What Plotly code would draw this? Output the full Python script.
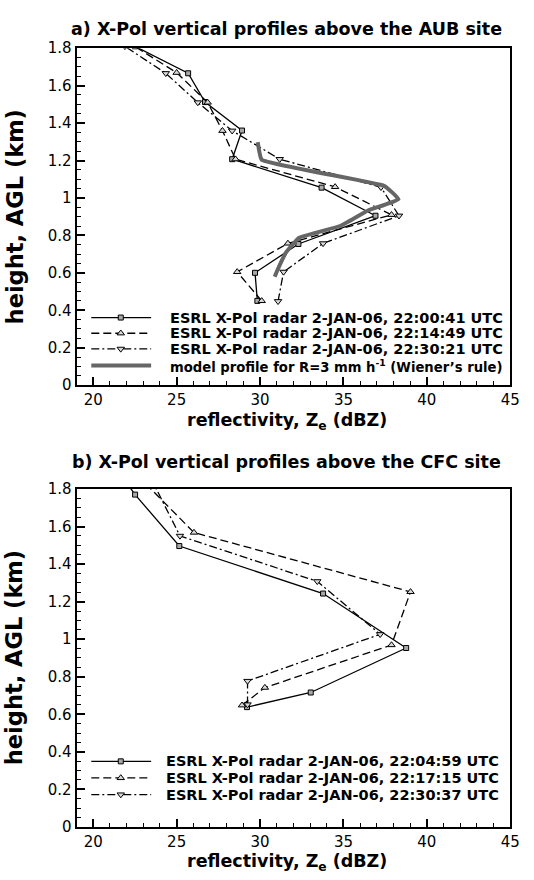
import plotly.graph_objects as go

# ---------------- data: panel a) AUB site ----------------
A1_NAME = "ESRL X-Pol radar 2-JAN-06, 22:00:41 UTC"
A1_H = [0.45, 0.60, 0.754, 0.905, 1.055, 1.207, 1.36, 1.512, 1.666, 1.81]
A1_Z = [29.84, 29.7, 32.3, 36.92, 33.69, 28.33, 28.92, 26.7, 25.69, 22.5]

A2_NAME = "ESRL X-Pol radar 2-JAN-06, 22:14:49 UTC"
A2_H = [0.45, 0.605, 0.757, 0.91, 1.059, 1.207, 1.359, 1.51, 1.669, 1.82]
A2_Z = [30.1, 28.63, 31.67, 37.88, 34.5, 28.53, 27.75, 26.86, 25.0, 22.3]

A3_NAME = "ESRL X-Pol radar 2-JAN-06, 22:30:21 UTC"
A3_H = [0.448, 0.605, 0.757, 0.905, 1.057, 1.207, 1.359, 1.51, 1.666, 1.81]
A3_Z = [31.08, 31.41, 33.78, 38.33, 37.25, 31.18, 28.33, 26.27, 24.35, 21.9]

M_NAME = "model profile for R=3 mm h<sup>-1</sup> (Wiener’s rule)"
M_H = [1.298, 1.204, 1.064, 0.993, 0.933, 0.85, 0.788, 0.71, 0.614, 0.579]
M_Z = [29.86, 30.1, 37.45, 38.3, 36.47, 34.8, 32.35, 31.57, 31.04, 30.88]

# ---------------- data: panel b) CFC site ----------------
B1_NAME = "ESRL X-Pol radar 2-JAN-06, 22:04:59 UTC"
B1_H = [0.638, 0.716, 0.953, 1.243, 1.496, 1.77, 1.87]
B1_Z = [29.22, 33.04, 38.76, 33.78, 25.16, 22.51, 21.7]

B2_NAME = "ESRL X-Pol radar 2-JAN-06, 22:17:15 UTC"
B2_H = [0.648, 0.742, 0.969, 1.252, 1.568, 1.85]
B2_Z = [28.92, 30.29, 37.88, 39.02, 26.04, 22.9]

B3_NAME = "ESRL X-Pol radar 2-JAN-06, 22:30:37 UTC"
B3_H = [0.652, 0.777, 1.026, 1.308, 1.55, 1.85]
B3_Z = [29.25, 29.25, 37.2, 33.43, 25.2, 23.5]

TITLE_A = "a) X-Pol vertical profiles above the AUB site"
TITLE_B = "b) X-Pol vertical profiles above the CFC site"
X_TITLE = "reflectivity, Z<sub>e</sub> (dBZ)"
Y_TITLE = "height, AGL (km)"

# legend key layout (fractions of each plot area)
KEY_X = [0.034, 0.172]
KEY_MX = 0.102
KEY_TX = 0.212
KEY_ROWS_A = [0.2006, 0.154, 0.1076, 0.058]
KEY_ROWS_B = [0.194, 0.145, 0.0957]

W, H = 534, 880
FONT = "DejaVu Sans"

SOLID = dict(dash="solid", mk=dict(symbol="square", size=5, color="#a8a8a8",
                                   line=dict(color="black", width=1)))
DASH = dict(dash="8px,4px", mk=dict(symbol="triangle-up", size=6.5, color="#d8d8d8",
                                     line=dict(color="black", width=1)))
DASHDOT = dict(dash="8px,3px,2px,3px", mk=dict(symbol="triangle-down", size=6.5, color="#d8d8d8",
                                                line=dict(color="black", width=1)))

fig = go.Figure()


def add_series(z, h, sty, xa, ya, name):
    fig.add_trace(go.Scatter(
        x=z, y=h, mode="lines+markers", name=name, showlegend=False,
        line=dict(color="black", width=1.3, dash=sty["dash"]),
        marker=sty["mk"], xaxis=xa, yaxis=ya, cliponaxis=True))


def add_key(row_y, sty, xa, ya, gray=False):
    if gray:
        fig.add_trace(go.Scatter(x=KEY_X, y=[row_y, row_y], mode="lines", showlegend=False,
                                 line=dict(color="#666666", width=4), xaxis=xa, yaxis=ya,
                                 hoverinfo="skip"))
        return
    fig.add_trace(go.Scatter(x=KEY_X, y=[row_y, row_y], mode="lines", showlegend=False,
                             line=dict(color="black", width=1.3, dash=sty["dash"]),
                             xaxis=xa, yaxis=ya, hoverinfo="skip"))
    fig.add_trace(go.Scatter(x=[KEY_MX], y=[row_y], mode="markers", showlegend=False,
                             marker=sty["mk"], xaxis=xa, yaxis=ya, hoverinfo="skip"))


# panel a
add_series(A1_Z, A1_H, SOLID, "x", "y", A1_NAME)
add_series(A2_Z, A2_H, DASH, "x", "y", A2_NAME)
add_series(A3_Z, A3_H, DASHDOT, "x", "y", A3_NAME)
fig.add_trace(go.Scatter(x=M_Z, y=M_H, mode="lines", name=M_NAME, showlegend=False,
                         line=dict(color="#666666", width=4, shape="spline", smoothing=0.3),
                         xaxis="x", yaxis="y"))
# panel b
add_series(B1_Z, B1_H, SOLID, "x2", "y2", B1_NAME)
add_series(B2_Z, B2_H, DASH, "x2", "y2", B2_NAME)
add_series(B3_Z, B3_H, DASHDOT, "x2", "y2", B3_NAME)

# legend keys
for ry, sty in zip(KEY_ROWS_A[:3], [SOLID, DASH, DASHDOT]):
    add_key(ry, sty, "x3", "y3")
add_key(KEY_ROWS_A[3], None, "x3", "y3", gray=True)
for ry, sty in zip(KEY_ROWS_B, [SOLID, DASH, DASHDOT]):
    add_key(ry, sty, "x4", "y4")

annotations = []
for ry, nm, fs in zip(KEY_ROWS_A, [A1_NAME, A2_NAME, A3_NAME, M_NAME], [14.5, 14.5, 14.5, 13.2]):
    annotations.append(dict(x=KEY_TX, y=ry, xref="x3 domain", yref="y3 domain",
                            text="<b>" + nm + "</b>", showarrow=False, xanchor="left",
                            yanchor="middle", font=dict(family=FONT, size=fs, color="black")))
for ry, nm in zip(KEY_ROWS_B, [B1_NAME, B2_NAME, B3_NAME]):
    annotations.append(dict(x=KEY_TX - 0.011, y=ry, xref="x4 domain", yref="y4 domain",
                            text="<b>" + nm + "</b>", showarrow=False, xanchor="left",
                            yanchor="middle", font=dict(family=FONT, size=14.5, color="black")))

XC = 292 / W
for title, ty, xty, yty in [(TITLE_A, 20, 421, 212), (TITLE_B, 462, 871, 662)]:
    annotations.append(dict(x=XC, y=1 - ty / H, xref="paper", yref="paper",
                            text="<b>" + title + "</b>", showarrow=False, xanchor="center",
                            yanchor="middle", font=dict(family=FONT, size=17.5, color="black")))
    annotations.append(dict(x=XC, y=1 - xty / H, xref="paper", yref="paper",
                            text="<b>" + X_TITLE + "</b>", showarrow=False, xanchor="center",
                            yanchor="middle", font=dict(family=FONT, size=17.5, color="black")))
    annotations.append(dict(x=15 / W, y=1 - yty / H, xref="paper", yref="paper",
                            text="<b>" + Y_TITLE + "</b>", showarrow=False, textangle=-90,
                            xanchor="center", yanchor="middle",
                            font=dict(family=FONT, size=22.5, color="black")))

XD = [78 / W, 520 / W]
YD_A = [1 - 384 / H, 1 - 40 / H]
YD_B = [1 - 835 / H, 1 - 490 / H]

tickfont = dict(family=FONT, size=15, color="black")


def xax(anchor):
    return dict(domain=XD, anchor=anchor, range=[19, 45], tick0=20, dtick=5,
                ticks="inside", ticklen=8, tickwidth=1.5, tickcolor="black",
                showline=True, linecolor="black", linewidth=2, mirror=True,
                showgrid=False, zeroline=False, tickfont=tickfont,
                minor=dict(dtick=1, tick0=20, ticks="inside", ticklen=4, tickcolor="black",
                           tickwidth=1, showgrid=False))


def yax(dom, anchor):
    return dict(domain=dom, anchor=anchor, range=[0, 1.8], tick0=0, dtick=0.2,
                ticks="inside", ticklen=8, tickwidth=1.5, tickcolor="black",
                showline=True, linecolor="black", linewidth=2, mirror=True,
                showgrid=False, zeroline=False, tickfont=tickfont,
                minor=dict(dtick=0.05, tick0=0, ticks="inside", ticklen=4, tickcolor="black",
                           tickwidth=1, showgrid=False))


fig.update_layout(
    width=W, height=H, margin=dict(l=0, r=0, t=0, b=0),
    paper_bgcolor="white", plot_bgcolor="white", showlegend=False,
    xaxis=xax("y"), yaxis=yax(YD_A, "x"),
    xaxis2=xax("y2"), yaxis2=yax(YD_B, "x2"),
    xaxis3=dict(overlaying="x", anchor="y3", range=[0, 1], visible=False),
    yaxis3=dict(overlaying="y", anchor="x3", range=[0, 1], visible=False),
    xaxis4=dict(overlaying="x2", anchor="y4", range=[0, 1], visible=False),
    yaxis4=dict(overlaying="y2", anchor="x4", range=[0, 1], visible=False),
    annotations=annotations,
    font=dict(family=FONT, color="black"),
)

fig.write_html("out.html")
